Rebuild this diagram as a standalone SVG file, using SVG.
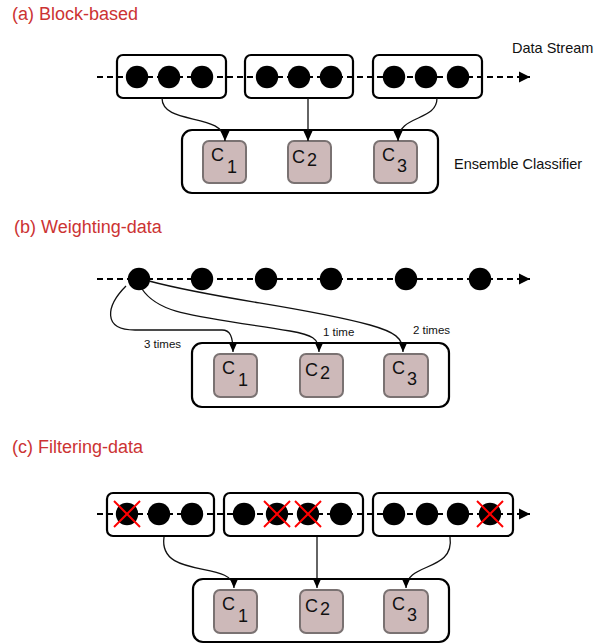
<svg xmlns="http://www.w3.org/2000/svg" width="597" height="644" viewBox="0 0 597 644">
<defs>
<marker id="ah" markerUnits="userSpaceOnUse" markerWidth="10" markerHeight="10" refX="10" refY="5" orient="auto">
<path d="M0,0.5 L10,5 L0,9.5 z" fill="#000"/>
</marker>
<marker id="sh" markerUnits="userSpaceOnUse" markerWidth="12" markerHeight="12" refX="11" refY="6" orient="auto">
<path d="M0,0.5 L11,6 L0,11.5 z" fill="#000"/>
</marker>
<style>
.title{font-family:"Liberation Sans",Arial,sans-serif;font-size:18px;fill:#cc3333}
.lbl{font-family:"Liberation Sans",Arial,sans-serif;font-size:14.5px;fill:#111}
.sm{font-family:"Liberation Sans",Arial,sans-serif;font-size:11.5px;fill:#111}
.ct{font-family:"Liberation Sans",Arial,sans-serif;font-size:18px;fill:#111}
.stream{stroke:#000;stroke-width:2.2;stroke-dasharray:6,4;fill:none}
.blk{fill:none;stroke:#000;stroke-width:2.2}
.ens{fill:#fff;stroke:#000;stroke-width:2.2}
.cls{fill:#cdb9b9;stroke:#7a7272;stroke-width:2}
.dot{fill:#000}
.conn{fill:none;stroke:#111;stroke-width:1.3}
.x{stroke:#ff0000;stroke-width:2}
</style>
</defs>

<!-- Titles -->
<text class="title" x="12" y="20">(a) Block-based</text>
<text class="title" x="14" y="233">(b) Weighting-data</text>
<text class="title" x="12" y="453">(c) Filtering-data</text>

<!-- ================= Panel (a) ================= -->
<g id="a-stream">
<line class="stream" x1="97" y1="77" x2="530" y2="77" marker-end="url(#sh)"/>
<text class="lbl" x="512" y="53">Data Stream</text>
</g>
<g id="a-block1">
<rect class="blk" x="117" y="55" width="109" height="43" rx="6"/>
<circle class="dot" cx="137" cy="77" r="11.2"/><circle class="dot" cx="169" cy="77" r="11.2"/><circle class="dot" cx="202" cy="77" r="11.2"/>
</g>
<g id="a-block2">
<rect class="blk" x="245" y="55" width="108" height="43" rx="6"/>
<circle class="dot" cx="267" cy="77" r="11.2"/><circle class="dot" cx="299" cy="77" r="11.2"/><circle class="dot" cx="331" cy="77" r="11.2"/>
</g>
<g id="a-block3">
<rect class="blk" x="373" y="55" width="109" height="43" rx="6"/>
<circle class="dot" cx="394" cy="77" r="11.2"/><circle class="dot" cx="426" cy="77" r="11.2"/><circle class="dot" cx="458" cy="77" r="11.2"/>
</g>
<g id="a-ensemble">
<rect class="ens" x="182" y="130" width="256" height="63" rx="10"/>
<text class="lbl" x="454" y="169">Ensemble Classifier</text>
</g>
<g id="a-c1"><rect class="cls" x="203" y="141" width="43" height="42" rx="6"/><text class="ct" x="211" y="161">C<tspan dx="3" dy="12">1</tspan></text></g>
<g id="a-c2"><rect class="cls" x="288" y="141" width="43" height="42" rx="6"/><text class="ct" x="292" y="163">C<tspan dx="2" dy="3">2</tspan></text></g>
<g id="a-c3"><rect class="cls" x="374" y="141" width="43" height="42" rx="6"/><text class="ct" x="382" y="161">C<tspan dx="2" dy="11">3</tspan></text></g>
<g id="a-connectors">
<path class="conn" d="M162,98 C162,126 225,112 225,141" marker-end="url(#ah)"/>
<path class="conn" d="M308,98 L308,141" marker-end="url(#ah)"/>
<path class="conn" d="M437,98 C437,122 398,114 398,141" marker-end="url(#ah)"/>
</g>

<!-- ================= Panel (b) ================= -->
<g id="b-stream">
<line class="stream" x1="97" y1="279" x2="530" y2="279" marker-end="url(#sh)"/>
<circle class="dot" cx="139" cy="279" r="11.2"/>
<circle class="dot" cx="202" cy="279" r="11.2"/>
<circle class="dot" cx="266" cy="279" r="11.2"/>
<circle class="dot" cx="331" cy="279" r="11.2"/>
<circle class="dot" cx="406" cy="279" r="11.2"/>
<circle class="dot" cx="480" cy="279" r="11.2"/>
</g>
<g id="b-ensemble"><rect class="ens" x="192" y="343" width="257" height="64" rx="10"/></g>
<g id="b-c1"><rect class="cls" x="214" y="354" width="43" height="43" rx="6"/><text class="ct" x="222" y="374">C<tspan dx="3" dy="12">1</tspan></text></g>
<g id="b-c2"><rect class="cls" x="300" y="354" width="43" height="43" rx="6"/><text class="ct" x="305" y="376">C<tspan dx="2" dy="3">2</tspan></text></g>
<g id="b-c3"><rect class="cls" x="384" y="354" width="44" height="43" rx="6"/><text class="ct" x="392" y="374">C<tspan dx="2" dy="11">3</tspan></text></g>
<g id="b-connectors">
<path class="conn" d="M126,286 C106,306 102,330 135,330 L222,330 C230,330 233,336 233,352" marker-end="url(#ah)"/>
<path class="conn" d="M142,289 C160,316 200,316 290,331 C312,335 319,338 319,352" marker-end="url(#ah)"/>
<path class="conn" d="M149,281 C220,300 300,306 370,325 C395,332 403,338 403,352" marker-end="url(#ah)"/>
<text class="sm" x="144" y="348">3 times</text>
<text class="sm" x="323" y="336">1 time</text>
<text class="sm" x="413" y="334">2 times</text>
</g>

<!-- ================= Panel (c) ================= -->
<g id="c-stream">
<line class="stream" x1="97" y1="514" x2="530" y2="514" marker-end="url(#sh)"/>
</g>
<g id="c-block1">
<rect class="blk" x="107" y="493" width="107" height="43" rx="6"/>
<circle class="dot" cx="127" cy="514" r="11.2"/><circle class="dot" cx="159" cy="514" r="11.2"/><circle class="dot" cx="192" cy="514" r="11.2"/>
<line class="x" x1="114" y1="501" x2="140" y2="527"/><line class="x" x1="140" y1="501" x2="114" y2="527"/>
</g>
<g id="c-block2">
<rect class="blk" x="224" y="493" width="139" height="43" rx="6"/>
<circle class="dot" cx="244" cy="514" r="11.2"/><circle class="dot" cx="277" cy="514" r="11.2"/><circle class="dot" cx="308" cy="514" r="11.2"/><circle class="dot" cx="341" cy="514" r="11.2"/>
<line class="x" x1="264" y1="501" x2="290" y2="527"/><line class="x" x1="290" y1="501" x2="264" y2="527"/>
<line class="x" x1="295" y1="501" x2="321" y2="527"/><line class="x" x1="321" y1="501" x2="295" y2="527"/>
</g>
<g id="c-block3">
<rect class="blk" x="373" y="493" width="140" height="43" rx="6"/>
<circle class="dot" cx="394" cy="514" r="11.2"/><circle class="dot" cx="427" cy="514" r="11.2"/><circle class="dot" cx="458" cy="514" r="11.2"/><circle class="dot" cx="490" cy="514" r="11.2"/>
<line class="x" x1="477" y1="501" x2="503" y2="527"/><line class="x" x1="503" y1="501" x2="477" y2="527"/>
</g>
<g id="c-ensemble"><rect class="ens" x="193" y="579" width="256" height="63" rx="10"/></g>
<g id="c-c1"><rect class="cls" x="214" y="590" width="43" height="43" rx="6"/><text class="ct" x="222" y="610">C<tspan dx="3" dy="12">1</tspan></text></g>
<g id="c-c2"><rect class="cls" x="300" y="590" width="43" height="43" rx="6"/><text class="ct" x="305" y="612">C<tspan dx="2" dy="3">2</tspan></text></g>
<g id="c-c3"><rect class="cls" x="384" y="590" width="44" height="43" rx="6"/><text class="ct" x="392" y="610">C<tspan dx="2" dy="11">3</tspan></text></g>
<g id="c-connectors">
<path class="conn" d="M164,537 C158,580 234,560 234,588" marker-end="url(#ah)"/>
<path class="conn" d="M317,537 L317,588" marker-end="url(#ah)"/>
<path class="conn" d="M450,537 C455,572 406,562 406,588" marker-end="url(#ah)"/>
</g>
</svg>
